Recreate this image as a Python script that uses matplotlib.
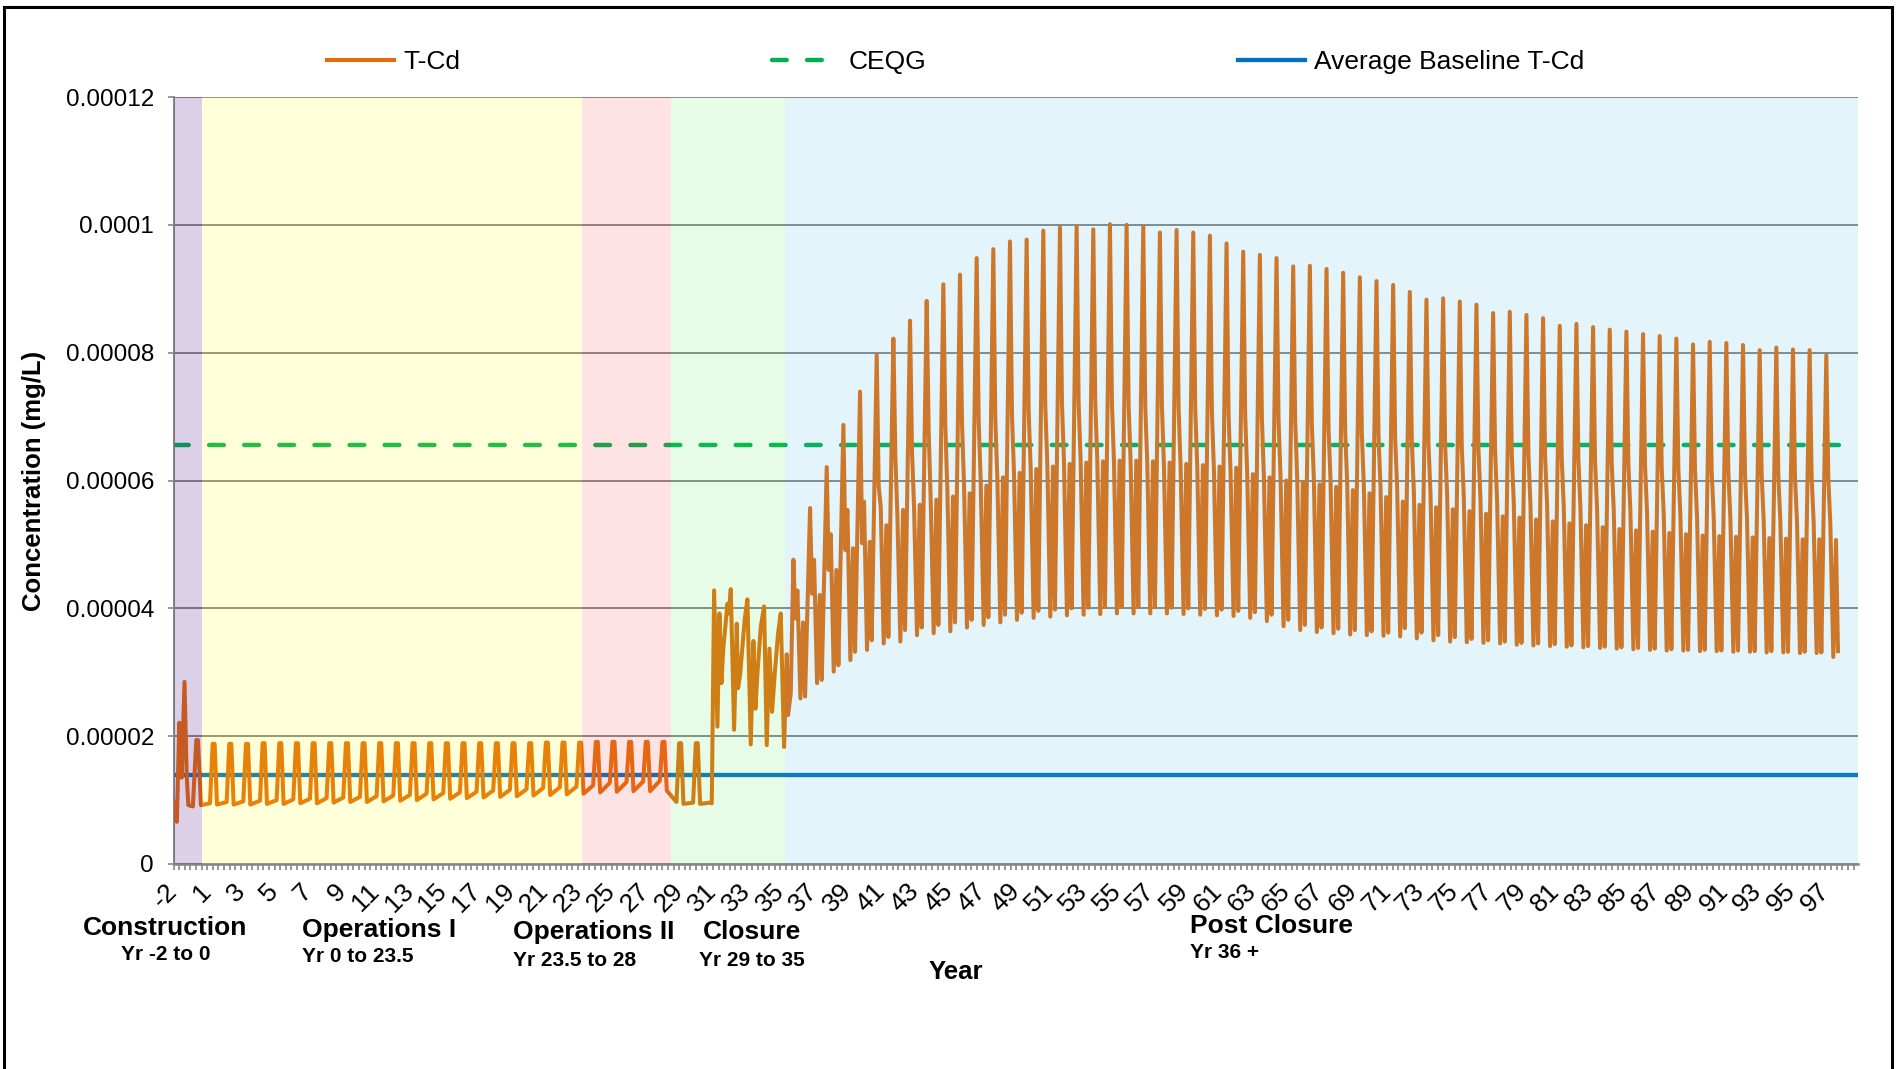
import matplotlib.pyplot as plt
import matplotlib.patches as patches
import matplotlib.transforms as mtransforms
from matplotlib.lines import Line2D
import numpy as np

plt.rcParams['font.family'] = ['Liberation Sans', 'DejaVu Sans']

W, H = 1902, 1069

# all concentrations below are in units of 1e-5 mg/L
ceqg = 6.55
baseline = 1.39

# construction period, read point by point (t in years, first ops peak at t=1)
con_t = [-1.40, -1.30, -1.21, -1.06, -0.92, -0.75, -0.62, -0.52, -0.25, -0.04, 0.06, 0.24, 0.78]
con_v = [0.96, 0.80, 0.66, 2.21, 1.35, 2.85, 1.40, 0.92, 0.90, 1.94, 1.94, 0.92, 0.95]

# operations I / II and first closure years: one seasonal peak per year
ops_years = list(range(1, 31))
ops_peak = [1.88, 1.88, 1.88, 1.89, 1.89, 1.89, 1.89, 1.89, 1.89, 1.89,
            1.89, 1.89, 1.89, 1.89, 1.89, 1.89, 1.89, 1.89, 1.89, 1.89,
            1.90, 1.90, 1.90, 1.91, 1.91, 1.91, 1.91, 1.91, 1.89, 1.89]
ops_low = [0.93, 0.93, 0.93, 0.94, 0.94, 0.95, 0.95, 0.96, 0.97, 0.97,
           0.98, 0.99, 1.00, 1.01, 1.02, 1.03, 1.04, 1.05, 1.06, 1.07,
           1.08, 1.09, 1.10, 1.12, 1.13, 1.14, 1.14, 1.15, 0.94, 0.94]
ops_bump = [0.97, 0.98, 0.99, 1.00, 1.01, 1.02, 1.03, 1.04, 1.05, 1.06,
            1.07, 1.08, 1.10, 1.11, 1.12, 1.13, 1.15, 1.16, 1.17, 1.19,
            1.20, 1.21, 1.23, 1.27, 1.28, 1.29, 1.30, 0.97, 0.96, 0.96]

# closure: irregular response
clo_t = [30.90, 31.04, 31.24, 31.36, 31.48, 31.60, 31.84, 31.92, 32.04, 32.24,
         32.40, 32.48, 32.60, 32.88, 33.04, 33.24, 33.40, 33.52, 33.64, 33.84,
         34.04, 34.20, 34.36, 34.52, 34.68, 34.88, 35.04, 35.24, 35.40, 35.48,
         35.64]
clo_v = [0.95, 4.28, 2.15, 3.92, 2.83, 3.40, 4.07, 3.92, 4.30, 2.10,
         3.76, 2.75, 2.96, 3.84, 4.14, 1.87, 3.49, 2.43, 2.98, 3.71,
         4.03, 1.86, 3.37, 2.38, 2.98, 3.61, 3.92, 1.83, 3.28, 2.33,
         2.67]

# post closure: per year peak, two steps down, trough, secondary peak, second trough
pc_years = list(range(35, 98))
pc_peak = [4.76, 5.57, 6.21, 6.87, 7.39, 7.96, 8.22, 8.50, 8.81, 9.07,
           9.22, 9.48, 9.62, 9.74, 9.77, 9.91, 9.96, 9.98, 9.93, 10.01,
           10.00, 9.98, 9.88, 9.92, 9.88, 9.83, 9.71, 9.58, 9.53, 9.48,
           9.35, 9.36, 9.31, 9.25, 9.18, 9.12, 9.06, 8.95, 8.83, 8.85,
           8.80, 8.75, 8.62, 8.64, 8.59, 8.54, 8.42, 8.45, 8.40, 8.36,
           8.33, 8.29, 8.26, 8.22, 8.13, 8.17, 8.15, 8.12, 8.04, 8.08,
           8.05, 8.04, 7.96]
pc_a = [3.84, 4.23, 4.60, 4.91, 5.02, 5.90, 6.38, 6.45, 6.75, 6.85,
        6.90, 6.93, 6.95, 7.02, 7.08, 7.15, 7.21, 7.21, 7.21, 7.20,
        7.18, 7.16, 7.16, 7.13, 7.11, 7.08, 7.03, 7.00, 6.98, 6.95,
        6.92, 6.87, 6.82, 6.78, 6.74, 6.70, 6.66, 6.62, 6.58, 6.55,
        6.52, 6.49, 6.45, 6.42, 6.40, 6.37, 6.34, 6.32, 6.29, 6.27,
        6.24, 6.22, 6.20, 6.18, 6.15, 6.14, 6.12, 6.10, 6.08, 6.07,
        6.05, 6.04, 6.03]
pc_b = [4.28, 4.76, 5.16, 5.54, 5.67, 5.60, 5.46, 5.60, 5.70, 5.85,
        5.94, 6.00, 6.05, 6.12, 6.20, 6.26, 6.30, 6.31, 6.32, 6.31,
        6.30, 6.28, 6.25, 6.23, 6.22, 6.18, 6.12, 6.10, 6.07, 6.05,
        6.04, 6.02, 6.00, 5.96, 5.92, 5.90, 5.88, 5.84, 5.80, 5.77,
        5.74, 5.71, 5.68, 5.65, 5.63, 5.62, 5.60, 5.58, 5.56, 5.54,
        5.52, 5.50, 5.48, 5.46, 5.44, 5.43, 5.42, 5.40, 5.39, 5.37,
        5.36, 5.35, 5.33]
pc_trough = [2.59, 2.83, 3.01, 3.19, 3.35, 3.45, 3.48, 3.58, 3.61, 3.64,
             3.70, 3.74, 3.78, 3.82, 3.85, 3.87, 3.89, 3.90, 3.91, 3.92,
             3.92, 3.92, 3.92, 3.91, 3.90, 3.89, 3.88, 3.85, 3.80, 3.72,
             3.66, 3.63, 3.61, 3.59, 3.58, 3.57, 3.56, 3.53, 3.50, 3.48,
             3.47, 3.46, 3.45, 3.43, 3.42, 3.41, 3.40, 3.39, 3.38, 3.37,
             3.36, 3.35, 3.34, 3.34, 3.33, 3.33, 3.32, 3.32, 3.31, 3.31,
             3.30, 3.30, 3.24]
pc_second = [3.78, 4.21, 4.60, 4.94, 5.04, 5.30, 5.54, 5.62, 5.70, 5.75,
             5.80, 5.92, 6.05, 6.12, 6.18, 6.22, 6.26, 6.28, 6.30, 6.31,
             6.31, 6.30, 6.28, 6.26, 6.24, 6.22, 6.20, 6.10, 6.05, 6.00,
             5.97, 5.94, 5.90, 5.85, 5.80, 5.74, 5.67, 5.62, 5.58, 5.55,
             5.52, 5.48, 5.44, 5.42, 5.39, 5.36, 5.33, 5.30, 5.27, 5.24,
             5.22, 5.20, 5.18, 5.16, 5.14, 5.13, 5.12, 5.11, 5.10, 5.09,
             5.08, 5.08, 5.07]
pc_trough2 = [2.62, 2.88, 3.11, 3.32, 3.50, 3.55, 3.66, 3.70, 3.74, 3.78,
              3.82, 3.86, 3.90, 3.93, 3.96, 3.98, 4.00, 4.01, 4.02, 4.02,
              4.02, 4.02, 4.01, 4.00, 3.99, 3.98, 3.96, 3.94, 3.90, 3.82,
              3.74, 3.70, 3.68, 3.66, 3.64, 3.62, 3.69, 3.62, 3.58, 3.55,
              3.52, 3.50, 3.48, 3.46, 3.45, 3.44, 3.42, 3.41, 3.40, 3.39,
              3.38, 3.37, 3.36, 3.35, 3.35, 3.34, 3.34, 3.33, 3.33, 3.32,
              3.32, 3.31, 3.33]

tick_labels = ['-2'] + [str(k) for k in range(1, 98, 2)]

phase_edges = [-1.41, 0.33, 23.12, 28.47, 35.28, 99.72]
phase_colors = ['#50148C', '#FFFF00', '#F24444', '#58EB58', '#44B6E4']
phase_alpha = [0.2, 0.15, 0.15, 0.15, 0.15]
phase_names = ['Construction', 'Operations I', 'Operations II', 'Closure', 'Post Closure']
phase_years = ['Yr -2 to 0', 'Yr 0 to 23.5', 'Yr 23.5 to 28', 'Yr 29 to 35', 'Yr 36 +']

# ---- assemble the T-Cd series ----
t_all = list(con_t)
v_all = list(con_v)
for k, p, lo, bu in zip(ops_years, ops_peak, ops_low, ops_bump):
    t_all += [k - 0.06, k + 0.06, k + 0.2, k + 0.78]
    v_all += [p, p, lo, bu]
t_all += clo_t
v_all += clo_v
for k, p, a, b, tr, s, tr2 in zip(pc_years, pc_peak, pc_a, pc_b, pc_trough, pc_second, pc_trough2):
    t_all += [k + 0.80, k + 0.92, k + 1.04, k + 1.22, k + 1.38, k + 1.50]
    v_all += [p, a, b, tr, s, tr2]
t_all = np.array(t_all)
v_all = np.array(v_all) * 1e-5

fig = plt.figure(figsize=(W / 100, H / 100), dpi=100)
ax = fig.add_axes([173.5 / W, 1 - 864 / H, (1858.3 - 173.5) / W, (864 - 97) / H])

orange = '#E46C0A'
green = '#00B050'
blue = '#0070C0'
grey = '#868686'

ax.plot(t_all, v_all, color=orange, lw=2.9, solid_joinstyle='round', zorder=3)
ax.axhline(baseline * 1e-5, color=blue, lw=3.1, zorder=2)
ax.axhline(ceqg * 1e-5, color=green, lw=3.2, dashes=(3.3, 4.6), dash_capstyle='round', zorder=2)

for i in range(5):
    ax.axvspan(phase_edges[i], phase_edges[i + 1], color=phase_colors[i],
               alpha=phase_alpha[i], lw=0, zorder=5)

ax.set_xlim(phase_edges[0], phase_edges[-1])
ax.set_ylim(0, 0.00012)
yt = np.arange(0, 0.000121, 0.00002)
ax.set_yticks(yt)
ax.set_yticklabels(['0', '0.00002', '0.00004', '0.00006', '0.00008', '0.0001', '0.00012'])
ax.yaxis.grid(True, color=grey, lw=1.4)
ax.set_axisbelow(True)

label_pos = np.linspace(phase_edges[0], 97.75, len(tick_labels))
ax.set_xticks(label_pos)
ax.set_xticklabels(tick_labels)
step = (label_pos[1] - label_pos[0]) / 6
ax.set_xticks(np.arange(phase_edges[0], phase_edges[-1], step), minor=True)
shift = mtransforms.ScaledTranslation(5 / 100, 0, fig.dpi_scale_trans)
for lab in ax.get_xticklabels():
    lab.set_rotation(45)
    lab.set_ha('right')
    lab.set_va('center')
    lab.set_rotation_mode('anchor')
    lab.set_transform(lab.get_transform() + shift)

ax.tick_params(axis='x', which='both', length=4, width=1.2, color=grey, pad=13, labelsize=19)
ax.tick_params(axis='y', length=4, width=1.2, color=grey, pad=10, labelsize=17.5)

for s in ['top', 'right']:
    ax.spines[s].set_visible(False)
ax.spines['left'].set_color(grey)
ax.spines['left'].set_linewidth(1.4)
ax.spines['bottom'].set_color(grey)
ax.spines['bottom'].set_linewidth(1.8)

ax.set_ylabel('Concentration (mg/L)', fontsize=18.5, fontweight='bold', labelpad=14)

def fx(x, y):
    return x / W, 1 - y / H

fig.text(*fx(956, 972), 'Year', fontsize=18.5, fontweight='bold', ha='center', va='center')

name_xy = [(165, 928, 'center'), (302, 930, 'left'), (513, 932, 'left'), (752, 932, 'center'), (1190, 926, 'left')]
years_xy = [(166, 955, 'center'), (302, 957, 'left'), (513, 960, 'left'), (752, 960, 'center'), (1190, 952, 'left')]
for i in range(5):
    x, y, ha = name_xy[i]
    fig.text(*fx(x, y), phase_names[i], fontsize=19, fontweight='bold', ha=ha, va='center')
    x, y, ha = years_xy[i]
    fig.text(*fx(x, y), phase_years[i], fontsize=15, fontweight='bold', ha=ha, va='center')

handles = [Line2D([], [], color=orange, lw=2.9),
           Line2D([], [], color=green, lw=3.2, dashes=(3.3, 4.6), dash_capstyle='round'),
           Line2D([], [], color=blue, lw=3.1)]
fig.legend(handles, ['T-Cd', 'CEQG', 'Average Baseline T-Cd'], loc='center left',
           bbox_to_anchor=fx(327, 62), ncol=3, frameon=False, fontsize=19,
           handlelength=2.55, handletextpad=0.35, columnspacing=11.8,
           borderpad=0, borderaxespad=0)

border = patches.Rectangle((4 / W, -0.05), (1892 - 4) / W, 1.05 - 7 / H, fill=False,
                           edgecolor='black', lw=2.2, transform=fig.transFigure, clip_on=False)
fig.patches.append(border)

fig.savefig('out.png', dpi=100)
